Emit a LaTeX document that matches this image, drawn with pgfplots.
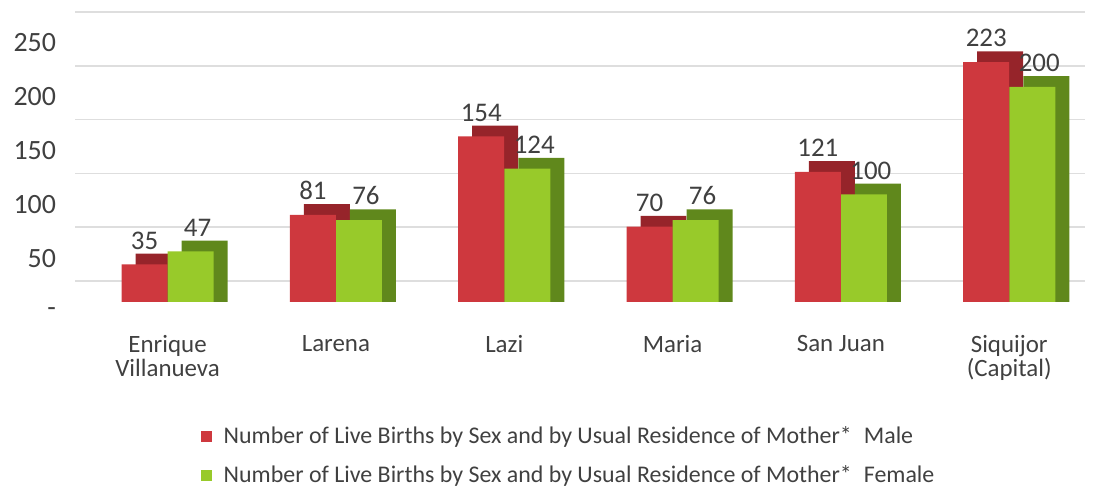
\documentclass[border=0pt]{standalone}
\usepackage{fontspec}
\setmainfont{Carlito}
\usepackage{pgfplots}
\pgfplotsset{compat=1.18}
\definecolor{maleF}{RGB}{206,56,62}
\definecolor{maleD}{RGB}{150,36,42}
\definecolor{femF}{RGB}{152,202,42}
\definecolor{femD}{RGB}{96,136,28}
\definecolor{txt}{RGB}{64,64,64}
\definecolor{gridc}{RGB}{222,222,222}
\begin{document}
\begin{tikzpicture}
\useasboundingbox (0,0) rectangle (550.5bp,244bp);
\begin{axis}[
  at={(37.5bp,93bp)}, anchor=south west,
  scale only axis, width=505bp, height=145bp,
  xmin=-0.55, xmax=5.45, ymin=0, ymax=269.5,
  axis line style={draw=none}, tick style={draw=none},
  /pgf/number format/assume math mode=true,
  ytick={0,50,100,150,200,250},
  yticklabels={-,50,100,150,200,250},
  yticklabel style={font=\fontsize{14}{16}\selectfont, text=txt, yshift=-5bp, xshift=-6bp},
  extra y ticks={19.5,69.5,119.5,169.5,219.5,269.5},
  extra y tick labels={},
  extra y tick style={grid=major, major grid style={draw=gridc, line width=0.8bp}},
  xtick={0,1,2,3,4,5},
  xticklabels={{Enrique\\Villanueva},Larena,Lazi,Maria,{San Juan},{Siquijor\\(Capital)}},
  xticklabel style={align=center, font=\fontsize{12.5}{12}\selectfont, text=txt, yshift=-13bp},
  legend style={at={(rel axis cs:0.118,-0.40)}, anchor=north west, draw=none, fill=none,
    font=\fontsize{12}{14}\selectfont, text=txt, row sep=5.5bp,
    /tikz/every odd column/.append style={column sep=4bp}},
  legend cell align=left,
  legend image code/.code={\fill[#1] (0bp,-2.8bp) rectangle (5.6bp,2.8bp);},
]
% side/top faces (depth)
\addplot[ybar, bar shift=-0.054, bar width=0.273, fill=maleD, draw=none, forget plot]
  coordinates {(0,45) (1,91) (2,164) (3,80) (4,131) (5,233)};
\addplot[ybar, bar shift=0.22, bar width=0.273, fill=femD, draw=none, forget plot]
  coordinates {(0,57) (1,86) (2,134) (3,86) (4,110) (5,210)};
% front faces
\addplot[ybar, bar shift=-0.137, bar width=0.273, fill=maleF, draw=none,
  nodes near coords, every node near coord/.append style={font=\fontsize{13.5}{15}\selectfont, text=txt, yshift=4bp, xshift=-11.5bp}]
  coordinates {(0,35) (1,81) (2,154) (3,70) (4,121) (5,223)};
\addlegendentry{Number of Live Births by Sex and by Usual Residence of Mother*\hspace{6bp}Male}
\addplot[ybar, bar shift=0.137, bar width=0.273, fill=femF, draw=none,
  nodes near coords, every node near coord/.append style={font=\fontsize{13.5}{15}\selectfont, text=txt, yshift=4bp, xshift=15bp}]
  coordinates {(0,47) (1,76) (2,124) (3,76) (4,100) (5,200)};
\addlegendentry{Number of Live Births by Sex and by Usual Residence of Mother*\hspace{6bp}Female}
\end{axis}
\end{tikzpicture}
\end{document}
